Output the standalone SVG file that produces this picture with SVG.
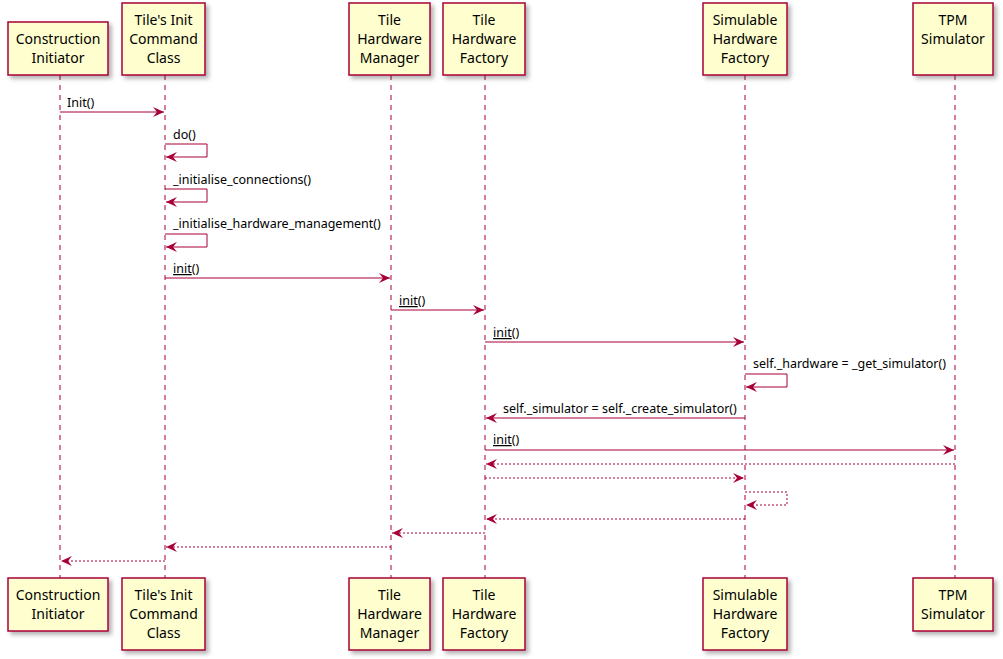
<svg xmlns="http://www.w3.org/2000/svg" width="1003" height="659" viewBox="0 0 1003 659">
<style>
.box{fill:#FEFECE;stroke:#A80036;stroke-width:1.5}
.pt{font-family:"Noto Sans",sans-serif;font-size:14px;fill:#000;text-anchor:middle}
.mt{font-family:"Noto Sans",sans-serif;font-size:12.5px;fill:#000}
.life{stroke:#A80036;stroke-width:1;stroke-dasharray:5,5}
.m{stroke:#A80036;stroke-width:1;fill:none}
.d{stroke-dasharray:2,2}
.u{text-decoration:underline}
</style>
<defs>
<marker id="a" viewBox="0 0 12 10" refX="11" refY="5" markerWidth="12" markerHeight="10" markerUnits="userSpaceOnUse" orient="auto">
<path d="M0,0 L11,5 L0,10 L4,5 Z" fill="#A80036"/>
</marker>
<filter id="sh" x="-10%" y="-10%" width="130%" height="130%"><feDropShadow dx="3" dy="3" stdDeviation="2" flood-color="#000" flood-opacity="0.3"/></filter>
</defs>
<g id="lifelines">
<line class="life" x1="60" y1="75" x2="60" y2="578"/>
<line class="life" x1="165" y1="75" x2="165" y2="578"/>
<line class="life" x1="391" y1="75" x2="391" y2="578"/>
<line class="life" x1="485" y1="75" x2="485" y2="578"/>
<line class="life" x1="745" y1="75" x2="745" y2="578"/>
<line class="life" x1="955" y1="75" x2="955" y2="578"/>
</g>
<g id="ci-top"><rect class="box" filter="url(#sh)" x="8" y="22" width="100" height="53"/><text class="pt" x="58" y="44">Construction</text><text class="pt" x="58" y="63">Initiator</text></g>
<g id="tic-top"><rect class="box" filter="url(#sh)" x="122" y="3" width="83" height="72"/><text class="pt" x="163.5" y="25">Tile's Init</text><text class="pt" x="163.5" y="44">Command</text><text class="pt" x="163.5" y="63">Class</text></g>
<g id="thm-top"><rect class="box" filter="url(#sh)" x="349" y="3" width="81" height="72"/><text class="pt" x="389.5" y="25">Tile</text><text class="pt" x="389.5" y="44">Hardware</text><text class="pt" x="389.5" y="63">Manager</text></g>
<g id="thf-top"><rect class="box" filter="url(#sh)" x="443" y="3" width="82" height="72"/><text class="pt" x="484" y="25">Tile</text><text class="pt" x="484" y="44">Hardware</text><text class="pt" x="484" y="63">Factory</text></g>
<g id="shf-top"><rect class="box" filter="url(#sh)" x="703" y="3" width="84" height="72"/><text class="pt" x="745" y="25">Simulable</text><text class="pt" x="745" y="44">Hardware</text><text class="pt" x="745" y="63">Factory</text></g>
<g id="tpm-top"><rect class="box" filter="url(#sh)" x="913" y="3" width="80" height="72"/><text class="pt" x="953" y="25">TPM</text><text class="pt" x="953" y="63" dy="-19">Simulator</text></g>
<g id="ci-bot"><rect class="box" filter="url(#sh)" x="8" y="578" width="100" height="53"/><text class="pt" x="58" y="600">Construction</text><text class="pt" x="58" y="619">Initiator</text></g>
<g id="tic-bot"><rect class="box" filter="url(#sh)" x="122" y="578" width="83" height="72"/><text class="pt" x="163.5" y="600">Tile's Init</text><text class="pt" x="163.5" y="619">Command</text><text class="pt" x="163.5" y="638">Class</text></g>
<g id="thm-bot"><rect class="box" filter="url(#sh)" x="349" y="578" width="81" height="72"/><text class="pt" x="389.5" y="600">Tile</text><text class="pt" x="389.5" y="619">Hardware</text><text class="pt" x="389.5" y="638">Manager</text></g>
<g id="thf-bot"><rect class="box" filter="url(#sh)" x="443" y="578" width="82" height="72"/><text class="pt" x="484" y="600">Tile</text><text class="pt" x="484" y="619">Hardware</text><text class="pt" x="484" y="638">Factory</text></g>
<g id="shf-bot"><rect class="box" filter="url(#sh)" x="703" y="578" width="84" height="72"/><text class="pt" x="745" y="600">Simulable</text><text class="pt" x="745" y="619">Hardware</text><text class="pt" x="745" y="638">Factory</text></g>
<g id="tpm-bot"><rect class="box" filter="url(#sh)" x="913" y="578" width="80" height="53"/><text class="pt" x="953" y="600">TPM</text><text class="pt" x="953" y="619">Simulator</text></g>
<g id="connectors">
<line class="m" x1="60" y1="112" x2="164" y2="112" marker-end="url(#a)"/>
<path class="m" d="M165,144 H207 V157 H166" marker-end="url(#a)"/>
<path class="m" d="M165,189 H207 V202 H166" marker-end="url(#a)"/>
<path class="m" d="M165,234 H207 V247 H166" marker-end="url(#a)"/>
<line class="m" x1="165" y1="278" x2="390" y2="278" marker-end="url(#a)"/>
<line class="m" x1="391" y1="310" x2="484" y2="310" marker-end="url(#a)"/>
<line class="m" x1="485" y1="342" x2="744" y2="342" marker-end="url(#a)"/>
<path class="m" d="M745,374 H787 V387 H746" marker-end="url(#a)"/>
<line class="m" x1="745" y1="418" x2="486" y2="418" marker-end="url(#a)"/>
<line class="m" x1="485" y1="450" x2="954" y2="450" marker-end="url(#a)"/>
<line class="m d" x1="955" y1="464" x2="486" y2="464" marker-end="url(#a)"/>
<line class="m d" x1="485" y1="478" x2="744" y2="478" marker-end="url(#a)"/>
<path class="m d" d="M745,492 H787 V505 H746" marker-end="url(#a)"/>
<line class="m d" x1="745" y1="519" x2="486" y2="519" marker-end="url(#a)"/>
<line class="m d" x1="485" y1="533" x2="392" y2="533" marker-end="url(#a)"/>
<line class="m d" x1="391" y1="547" x2="166" y2="547" marker-end="url(#a)"/>
<line class="m d" x1="165" y1="561" x2="61" y2="561" marker-end="url(#a)"/>
</g>
<g id="labels">
<text class="mt" x="67" y="107">Init()</text>
<text class="mt" x="173" y="139">do()</text>
<text class="mt" x="173" y="184">_initialise_connections()</text>
<text class="mt" x="173" y="228">_initialise_hardware_management()</text>
<text class="mt" x="173" y="273"><tspan class="u">init</tspan>()</text>
<text class="mt" x="399" y="305"><tspan class="u">init</tspan>()</text>
<text class="mt" x="493" y="337"><tspan class="u">init</tspan>()</text>
<text class="mt" x="753" y="368">self._hardware = _get_simulator()</text>
<text class="mt" x="503" y="413">self._simulator = self._create_simulator()</text>
<text class="mt" x="493" y="444"><tspan class="u">init</tspan>()</text>
</g>
</svg>
